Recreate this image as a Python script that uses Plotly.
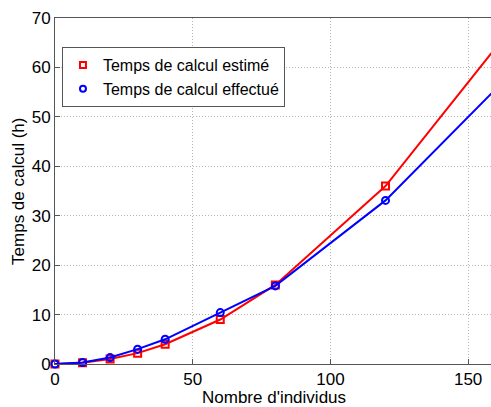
import plotly.graph_objects as go

individus = [0, 10, 20, 30, 40, 60, 80, 120, 160]
temps_estime = [0, 0.25, 1.0, 2.2, 4.0, 9.0, 16.0, 36.0, 64.0]
temps_effectue = [0, 0.3, 1.3, 3.0, 5.0, 10.4, 15.8, 33.1, 55.6]

FONT = "Liberation Sans, Arial"
RED = "#ff0000"
BLUE = "#0000ff"

fig = go.Figure()
# curves (legend drawn from marker-only entries, like MATLAB)
for y, col, sym in [(temps_estime, RED, "square-open"), (temps_effectue, BLUE, "circle-open")]:
    fig.add_trace(go.Scatter(
        x=individus, y=y, mode="lines+markers", showlegend=False, cliponaxis=False,
        line=dict(color=col, width=2),
        marker=dict(symbol=sym, size=7, color=col, line=dict(width=2)),
    ))
for name, col, sym in [("Temps de calcul estimé", RED, "square-open"),
                       ("Temps de calcul effectué", BLUE, "circle-open")]:
    fig.add_trace(go.Scatter(
        x=[None], y=[None], mode="markers", name=name,
        marker=dict(symbol=sym, size=6, color=col, line=dict(width=2)),
    ))

axis_common = dict(
    showline=True, linecolor="#555555", linewidth=1, mirror=True,
    ticks="inside", ticklen=5, tickcolor="#555555",
    showgrid=True, gridcolor="#b4b4b4", griddash="1px,2px", gridwidth=1,
    zeroline=False, automargin=False,
    tickfont=dict(family=FONT, size=17, color="black"),
)

fig.update_xaxes(range=[0, 158.3], tickvals=[0, 50, 100, 150], **axis_common)
fig.update_yaxes(range=[0, 70], dtick=10, **axis_common)

fig.add_annotation(x=0.503, y=-0.064, xref="paper", yref="paper", yanchor="top",
                   text="Nombre d'individus", showarrow=False,
                   font=dict(family=FONT, size=17, color="black"))
fig.add_annotation(x=-0.085, y=0.5, xref="paper", yref="paper", xanchor="center",
                   text="Temps de calcul (h)", showarrow=False, textangle=-90,
                   font=dict(family=FONT, size=17, color="black"))

fig.update_layout(
    width=491, height=407,
    margin=dict(l=55, r=0, t=18, b=43),
    paper_bgcolor="white", plot_bgcolor="white",
    font=dict(family=FONT, size=17, color="black"),
    legend=dict(x=0.016, y=0.916, xanchor="left", yanchor="top",
                bgcolor="white", bordercolor="#555555", borderwidth=1,
                font=dict(size=16), itemwidth=30, tracegroupgap=0),
    showlegend=True,
)

# page body has a default 8px margin; remove it so the figure sits at the corner
fig.write_html("out.html", config={"displayModeBar": False},
               post_script="document.body.style.margin='0';")
